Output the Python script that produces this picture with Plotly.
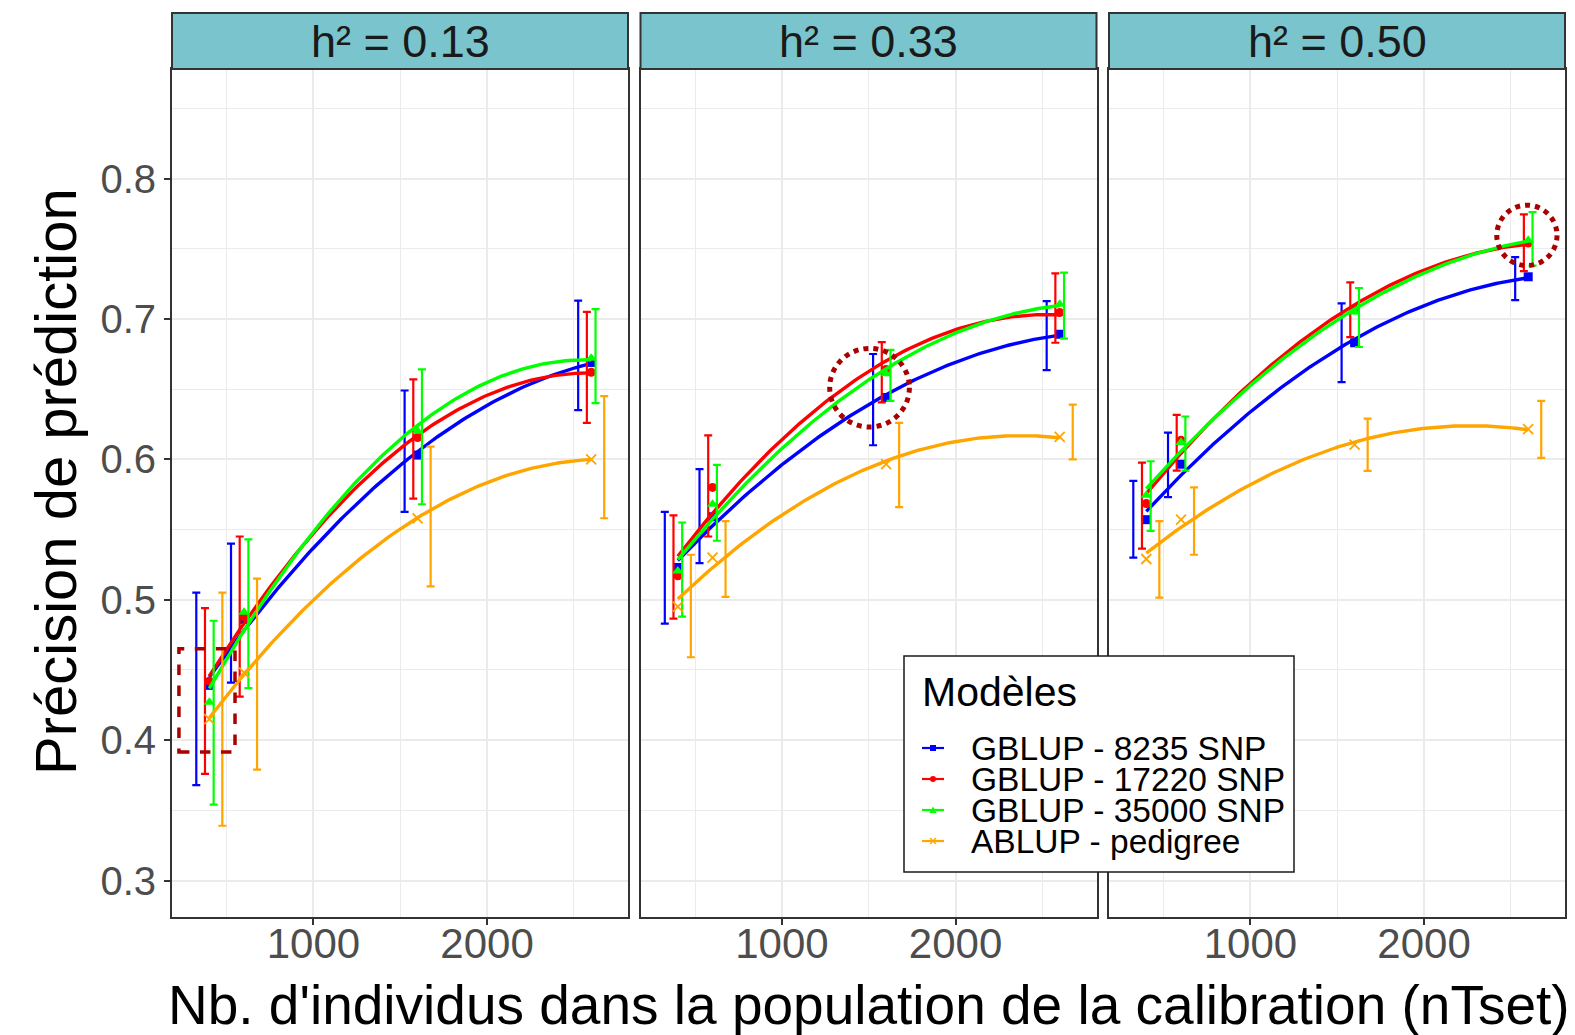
import numpy as np
import plotly.graph_objs as go

## data
nTset = [400, 600, 1600, 2600]
dodge = [-75, -25, 25, 75]
facets = ["h² = 0.13", "h² = 0.33", "h² = 0.50"]
models = ["GBLUP - 8235 SNP", "GBLUP - 17220 SNP", "GBLUP - 35000 SNP", "ABLUP - pedigree"]

# one row per model (8235, 17220, 35000, pedigree)
mean_013 = [[0.439, 0.486, 0.603, 0.669],
            [0.442, 0.488, 0.6155, 0.662],
            [0.427, 0.491, 0.620, 0.672],
            [0.415, 0.448, 0.558, 0.600]]
low_013 = [[0.368, 0.441, 0.5625, 0.635],
           [0.376, 0.431, 0.572, 0.626],
           [0.354, 0.437, 0.568, 0.640],
           [0.339, 0.379, 0.5095, 0.558]]
high_013 = [[0.505, 0.540, 0.649, 0.713],
            [0.494, 0.545, 0.657, 0.705],
            [0.485, 0.543, 0.664, 0.707],
            [0.505, 0.515, 0.609, 0.645]]

mean_033 = [[0.523, 0.559, 0.644, 0.689],
            [0.517, 0.580, 0.664, 0.7046],
            [0.5205, 0.568, 0.661, 0.7105],
            [0.495, 0.530, 0.5965, 0.616]]
low_033 = [[0.483, 0.526, 0.610, 0.6635],
           [0.4865, 0.545, 0.6405, 0.683],
           [0.488, 0.542, 0.6416, 0.686],
           [0.459, 0.502, 0.566, 0.600]]
high_033 = [[0.5625, 0.593, 0.675, 0.7127],
            [0.560, 0.617, 0.6835, 0.7324],
            [0.555, 0.596, 0.678, 0.733],
            [0.532, 0.556, 0.626, 0.639]]

mean_050 = [[0.557, 0.5965, 0.683, 0.730],
            [0.5685, 0.6136, 0.707, 0.754],
            [0.5744, 0.612, 0.705, 0.756],
            [0.529, 0.557, 0.6105, 0.6215]]
low_050 = [[0.530, 0.573, 0.655, 0.7134],
           [0.5364, 0.592, 0.687, 0.734],
           [0.549, 0.592, 0.680, 0.738],
           [0.5015, 0.532, 0.5917, 0.601]]
high_050 = [[0.5846, 0.619, 0.711, 0.744],
            [0.5977, 0.6317, 0.726, 0.7745],
            [0.5986, 0.6305, 0.722, 0.776],
            [0.556, 0.580, 0.629, 0.6416]]

means = [mean_013, mean_033, mean_050]
lows = [low_013, low_033, low_050]
highs = [high_013, high_033, high_050]

colors = ["#0000FF", "#FF0000", "#00FF00", "#FFA500"]
symbols = ["square", "circle", "triangle-up", "x-thin"]
sizes = [9, 9, 10, 10]

## figure
fig = go.Figure()
for p in range(3):
    xa = "x" if p == 0 else "x%d" % (p + 1)
    ya = "y" if p == 0 else "y%d" % (p + 1)
    for m in range(4):
        mu = means[p][m]
        lo = lows[p][m]
        hi = highs[p][m]
        # dodged error bars
        fig.add_trace(go.Scatter(
            x=[v + dodge[m] for v in nTset], y=mu, mode="markers",
            marker=dict(size=2, opacity=0, color=colors[m]),
            error_y=dict(type="data", symmetric=False,
                         array=[h - y for h, y in zip(hi, mu)],
                         arrayminus=[y - l for l, y in zip(lo, mu)],
                         color=colors[m], thickness=2.2, width=4),
            xaxis=xa, yaxis=ya, hoverinfo="skip"))
        # quadratic smooth, like geom_smooth(y ~ poly(x, 2))
        coef = np.polyfit(nTset, mu, 2)
        xs = np.linspace(min(nTset), max(nTset), 120)
        fig.add_trace(go.Scatter(
            x=xs, y=np.polyval(coef, xs), mode="lines",
            line=dict(color=colors[m], width=3.4),
            xaxis=xa, yaxis=ya, hoverinfo="skip"))
        # points
        mk = dict(symbol=symbols[m], size=sizes[m], color=colors[m])
        if symbols[m] == "x-thin":
            mk["line"] = dict(color=colors[m], width=1.8)
        fig.add_trace(go.Scatter(x=nTset, y=mu, mode="markers", marker=mk,
                                 name=models[m], xaxis=xa, yaxis=ya))

## axes
W, H = 1575, 1035
L, R, T, B = 172, 10, 13, 118
plot_w = W - L - R
plot_h = H - T - B
edges = [(172, 628), (640.5, 1096.5), (1109, 1565)]
domains = [[(a - L) / plot_w, (b - L) / plot_w] for a, b in edges]
ydom_top = (plot_h - 56) / plot_h


def px(x):
    return (x - L) / plot_w


def py(y):
    return (T + plot_h - y) / plot_h


grid = "#EBEBEB"
frame = "#333333"
for p in range(3):
    sfx = "" if p == 0 else str(p + 1)
    fig.layout["xaxis" + sfx] = dict(
        domain=domains[p], anchor="y" + sfx, range=[185, 2812], automargin=False,
        tickvals=[1000, 2000], ticktext=["1000", "2000"],
        ticks="outside", ticklen=6, tickwidth=1.5, tickcolor=frame, ticklabelstandoff=-17,
        tickfont=dict(size=42, color="#4D4D4D"),
        showgrid=True, gridcolor=grid, gridwidth=1.6,
        minor=dict(tickvals=[500, 1500, 2500], showgrid=True, gridcolor=grid, gridwidth=0.9),
        showline=True, linecolor=frame, linewidth=2, mirror=True, zeroline=False)
    fig.layout["yaxis" + sfx] = dict(
        domain=[0, ydom_top], anchor="x" + sfx, range=[0.274, 0.878], automargin=False,
        tickvals=[0.3, 0.4, 0.5, 0.6, 0.7, 0.8],
        ticktext=["0.3", "0.4", "0.5", "0.6", "0.7", "0.8"],
        ticks="outside" if p == 0 else "", ticklen=6, tickwidth=1.5, tickcolor=frame,
        showticklabels=(p == 0), tickfont=dict(size=40, color="#4D4D4D"),
        showgrid=True, gridcolor=grid, gridwidth=1.6,
        minor=dict(tickvals=[0.35, 0.45, 0.55, 0.65, 0.75, 0.85], showgrid=True,
                   gridcolor=grid, gridwidth=0.9),
        showline=True, linecolor=frame, linewidth=2, mirror=True, zeroline=False)

## strips + highlight shapes
shapes = []
annotations = []
for p in range(3):
    shapes.append(dict(type="rect", xref="paper", yref="paper",
                       x0=domains[p][0], x1=domains[p][1], y0=ydom_top, y1=1.0,
                       fillcolor="#7AC5CD", line=dict(color=frame, width=2), layer="above"))
    annotations.append(dict(text=facets[p], xref="paper", yref="paper",
                            x=(domains[p][0] + domains[p][1]) / 2, y=py(41),
                            xanchor="center", yanchor="middle",
                            showarrow=False, font=dict(size=45, color="#1A1A1A")))

hl = "#AA0000"
shapes.append(dict(type="rect", xref="x", yref="y", x0=225, x1=548, y0=0.3915, y1=0.465,
                   line=dict(color=hl, width=3.5, dash="dash")))
shapes.append(dict(type="circle", xref="x2", yref="y2", x0=1275, x1=1734, y0=0.623, y1=0.679,
                   line=dict(color=hl, width=5, dash="dot")))
shapes.append(dict(type="circle", xref="x3", yref="y3", x0=2419, x1=2766, y0=0.738, y1=0.781,
                   line=dict(color=hl, width=5, dash="dot")))

## legend box (drawn by hand to get ggplot's tight key spacing)
shapes.append(dict(type="rect", xref="paper", yref="paper",
                   x0=px(904), x1=px(1294), y0=py(872), y1=py(656),
                   fillcolor="white", line=dict(color="#1A1A1A", width=1.5), layer="above"))
annotations.append(dict(text="Modèles", xref="paper", yref="paper", x=px(920), y=py(692),
                        xanchor="left", yanchor="middle", showarrow=False,
                        font=dict(size=41, color="black")))
key_y = [748, 779, 810, 841]
for m in range(4):
    cy = key_y[m]
    cx = 933
    c = colors[m]
    shapes.append(dict(type="line", xref="paper", yref="paper", x0=px(922), x1=px(944),
                       y0=py(cy), y1=py(cy), line=dict(color=c, width=2.2), layer="above"))
    if symbols[m] == "square":
        shapes.append(dict(type="rect", xref="paper", yref="paper", x0=px(cx - 3), x1=px(cx + 3),
                           y0=py(cy + 3), y1=py(cy - 3), fillcolor=c, line=dict(width=0),
                           layer="above"))
    elif symbols[m] == "circle":
        shapes.append(dict(type="circle", xref="paper", yref="paper", x0=px(cx - 3), x1=px(cx + 3),
                           y0=py(cy + 3), y1=py(cy - 3), fillcolor=c, line=dict(width=0),
                           layer="above"))
    elif symbols[m] == "triangle-up":
        path = "M %f %f L %f %f L %f %f Z" % (px(cx - 3.5), py(cy + 3), px(cx + 3.5), py(cy + 3),
                                              px(cx), py(cy - 3.5))
        shapes.append(dict(type="path", xref="paper", yref="paper", path=path, fillcolor=c,
                           line=dict(width=0), layer="above"))
    else:
        path = "M %f %f L %f %f M %f %f L %f %f" % (px(cx - 3), py(cy - 3), px(cx + 3), py(cy + 3),
                                                    px(cx - 3), py(cy + 3), px(cx + 3), py(cy - 3))
        shapes.append(dict(type="path", xref="paper", yref="paper", path=path,
                           line=dict(color=c, width=1.4), layer="above"))
    annotations.append(dict(text=models[m], xref="paper", yref="paper", x=px(969), y=py(cy),
                            xanchor="left", yanchor="middle", showarrow=False,
                            font=dict(size=33.5, color="black")))

annotations.append(dict(text="Nb. d'individus dans la population de la calibration (nTset)",
                        xref="paper", yref="paper", x=px(869), y=py(1005),
                        xanchor="center", yanchor="middle",
                        showarrow=False, font=dict(size=55, color="black")))
annotations.append(dict(text="Précision de prédiction", xref="paper", yref="paper",
                        x=px(55), y=py(482), textangle=-90,
                        xanchor="center", yanchor="middle",
                        showarrow=False, font=dict(size=58, color="black")))

fig.update_layout(
    width=W, height=H,
    margin=dict(l=L, r=R, t=T, b=B, autoexpand=False),
    plot_bgcolor="white", paper_bgcolor="white",
    font=dict(family="Liberation Sans, Arial, sans-serif"),
    showlegend=False,
    shapes=shapes, annotations=annotations,
)

# page body has an 8px default margin; drop it so the figure sits at the origin
fig.write_html("out.html", config={"displayModeBar": False},
               post_script="document.body.style.margin='0px';")
